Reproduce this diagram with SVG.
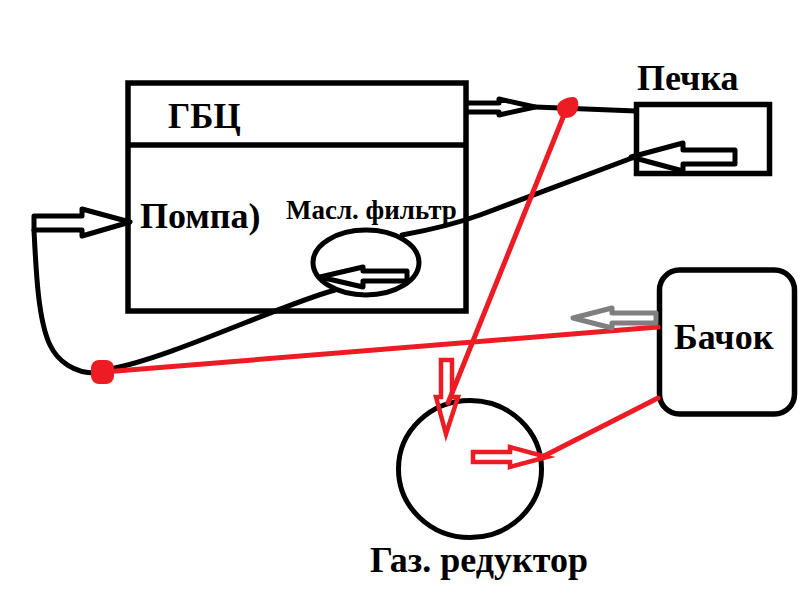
<svg xmlns="http://www.w3.org/2000/svg" width="800" height="595" viewBox="0 0 800 595">
<style>
.box{fill:none;stroke:#000;stroke-width:5.500}
.k{fill:none;stroke:#000;stroke-width:5;stroke-linejoin:round;stroke-linecap:round}
.r{fill:none;stroke:#ed1c24;stroke-width:5;stroke-linecap:round;stroke-linejoin:miter}
.ra{fill:none;stroke:#ed1c24;stroke-width:4.500;stroke-linecap:round;stroke-linejoin:miter}
.g{fill:none;stroke:#7f7f7f;stroke-width:5;stroke-linejoin:round}
.dot{fill:#ed1c24;stroke:none}
text{font-family:"Liberation Serif","Times New Roman",serif;font-weight:bold;fill:#000}
</style>
<rect width="800" height="595" fill="#fff"/>
<g id="gbc"><rect class="box" x="128" y="83" width="338" height="228"/><line class="box" x1="128" y1="145" x2="466" y2="145"/><text x="168" y="128" font-size="35">ГБЦ</text></g>
<g id="pompa"><text x="140" y="228" font-size="36">Помпа)</text></g>
<g id="filter"><ellipse cx="366" cy="262.500" rx="53" ry="32.500" fill="none" stroke="#000" stroke-width="5"/><text x="286" y="219" font-size="27">Масл. фильтр</text></g>
<g id="pechka"><rect class="box" x="636.500" y="104.500" width="133" height="69"/><text x="637" y="90" font-size="36">Печка</text></g>
<g id="bachok"><rect class="box" x="659.500" y="270" width="135" height="144" rx="20"/><text x="674" y="349" font-size="36">Бачок</text></g>
<g id="reduktor"><ellipse cx="470" cy="469" rx="71.500" ry="68.500" fill="none" stroke="#000" stroke-width="5"/><text x="370" y="572" font-size="36">Газ. редуктор</text></g>
<g id="connectors">
<path class="k" d="M34 230V216H82V209L130 222L82 236V230Z"/>
<path class="k" d="M34 230C36 270 38 320 50 345C58 362 75 373 95 373"/>
<path class="k" d="M110 369C170 358 280 305 335 290"/>
<path class="k" d="M402 235C430 230 455 224 480 215L640 155"/>
<path class="k" d="M407 282V271H363V267L320 277L363 287V281H407"/>
<path class="k" d="M467 103H499V99L535 107L499 115V112H467"/>
<path class="k" d="M535 107L636 111"/>
<path class="k" d="M735 150V164H683V171L631 157L683 143V150H735"/>
<path class="r" d="M104 372L658 327"/>
<path class="r" d="M566 110L448 403"/>
<path class="r" d="M658 398L542 457"/>
<path class="ra" d="M441 360H452V397H458L446 434L436 397H441Z"/>
<path class="ra" d="M473 452V462H510V467L547 457L510 447V452Z"/>
<path class="g" d="M656 313H612V308L573 318L612 328V323H656Z"/>
<rect class="dot" x="91" y="360" width="23" height="24" rx="8"/>
<path class="dot" d="M557 108C557 101 566 97 573 97C578 97 579 103 578 108C577 114 572 118 566 118C560 118 557 114 557 108Z"/>
</g>
</svg>
